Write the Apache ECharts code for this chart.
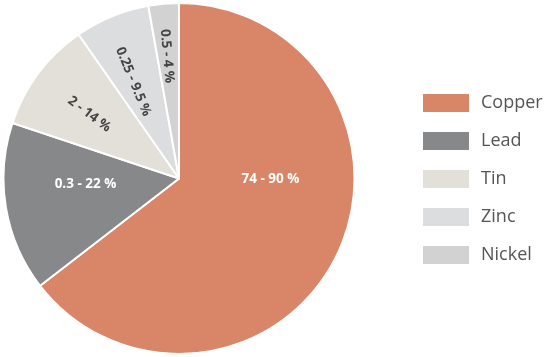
<!DOCTYPE html>
<html>
<head>
<meta charset="utf-8">
<style>
html,body{margin:0;padding:0;background:#fff;}
#chart{width:547px;height:357px;}
</style>
<script src="https://cdn.jsdelivr.net/npm/echarts@6/dist/echarts.min.js"></script>
</head>
<body>
<div id="chart"></div>
<script>
const categories = ["Copper", "Lead", "Tin", "Zinc", "Nickel"];
const shares = [64.6, 15.6, 10.2, 6.9, 2.8];
const rangeLabels = ["74 - 90 %", "0.3 - 22 %", "2 - 14 %", "0.25 - 9.5 %", "0.5 - 4 %"];

const colors = ["#D88667", "#878889", "#E3E0DA", "#DCDDDF", "#D2D2D2"];
const labelColors = ["#ffffff", "#ffffff", "#444444", "#444444", "#444444"];
const labelRotate = [0, 0, "radial", "radial", "radial"];
const labelShift = [[10, -39], [-4, -10], [-17, -10], [-11, -13], [-4, -32]];

const chart = echarts.init(document.getElementById('chart'), null, {renderer: 'canvas'});
chart.setOption({
  animation: false,
  legend: {
    orient: 'vertical',
    left: 421,
    top: 92,
    padding: 0,
    itemWidth: 48,
    itemHeight: 20,
    itemGap: 16,
    icon: 'rect',
    data: categories,
    textStyle: {fontFamily: 'Open Sans', fontSize: 18, lineHeight: 20, height: 20, color: '#555555', padding: [0, 0, 0, 6]}
  },
  series: [{
    type: 'pie',
    center: [179, 178.5],
    radius: [0, 175.5],
    startAngle: 90,
    clockwise: true,
    avoidLabelOverlap: false,
    itemStyle: {borderColor: '#ffffff', borderWidth: 2},
    label: {
      show: true,
      position: 'inside',
      fontFamily: 'Open Sans',
      fontWeight: 'bold',
      fontSize: 13.5
    },
    labelLayout: function (p) {
      const s = labelShift[p.dataIndex];
      const r = p.labelRect;
      return {x: r.x + r.width / 2 + s[0], y: r.y + r.height / 2 + s[1]};
    },
    emphasis: {disabled: true},
    data: categories.map((c, i) => ({
      name: c,
      value: shares[i],
      itemStyle: {color: colors[i]},
      label: {formatter: rangeLabels[i], color: labelColors[i], rotate: labelRotate[i]}
    }))
  }]
});
</script>
</body>
</html>
